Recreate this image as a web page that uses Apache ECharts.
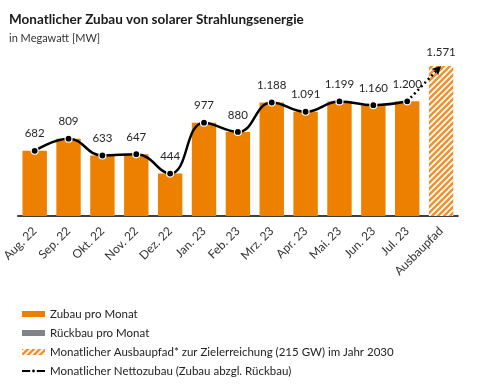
<!DOCTYPE html>
<html><head><meta charset="utf-8">
<script src="https://cdn.jsdelivr.net/npm/echarts@6/dist/echarts.min.js"></script>
<style>html,body{margin:0;padding:0;background:#fff;}#c{width:488px;height:388px;}</style>
</head><body><div id="c"></div>
<script>
const categories = ['Aug. 22','Sep. 22','Okt. 22','Nov. 22','Dez. 22','Jan. 23','Feb. 23','Mrz. 23','Apr. 23','Mai. 23','Jun. 23','Jul. 23','Ausbaupfad'];
const zubau = [682, 809, 633, 647, 444, 977, 880, 1188, 1091, 1199, 1160, 1200, null];
const rueckbau = [0, 0, 0, 0, 0, 0, 0, 0, 0, 0, 0, 0, null];
const ausbaupfad = [null, null, null, null, null, null, null, null, null, null, null, null, 1571];
const netto = [682, 809, 633, 647, 444, 977, 880, 1188, 1091, 1199, 1160, 1200, null];
const pfadLine = [null, null, null, null, null, null, null, null, null, null, null, 1200, 1571];

const ORANGE = '#EE8000';
const GRAY = '#808488';
const FONT = 'Lato';

function fmt(v){ const s = String(Math.round(v)); return s.replace(/\B(?=(\d{3})+(?!\d))/g, '.'); }
function toData(a){ return a.map(v => v === null ? '-' : v); }

// hatch pattern
const pc = document.createElement('canvas');
pc.width = 6; pc.height = 6;
const g = pc.getContext('2d');
g.fillStyle = '#ffffff'; g.fillRect(0,0,6,6);
g.strokeStyle = '#F0922E'; g.lineWidth = 2.6;
g.beginPath();
g.moveTo(-1,7); g.lineTo(7,-1);
g.moveTo(-4,4); g.lineTo(4,-4);
g.moveTo(2,10); g.lineTo(10,2);
g.stroke();
const hatch = {image: pc, repeat: 'repeat'};

const chart = echarts.init(document.getElementById('c'), null, {renderer:'canvas'});
chart.setOption({
  animation: false,
  textStyle: {fontFamily: FONT},
  title: [
    {text: 'Monatlicher Zubau von solarer Strahlungsenergie', left: 4, top: 8,
     textStyle: {fontFamily: FONT, fontSize: 13.5, fontWeight: 'bold', color: '#1a1a1a'}},
    {text: 'in Megawatt [MW]', left: 4, top: 28,
     textStyle: {fontFamily: FONT, fontSize: 11, fontWeight: 'normal', color: '#333'}}
  ],
  grid: {left: 5, right: 30, top: 44, bottom: 172, containLabel: false},
  xAxis: {
    type: 'category', data: categories,
    axisLine: {lineStyle: {color: '#000', width: 1.5}},
    axisTick: {show: false},
    axisLabel: {rotate: 45, fontSize: 12, color: '#333', margin: 13, interval: 0, fontFamily: FONT}
  },
  yAxis: {type: 'value', min: 0, max: 1800, show: false, splitLine: {show: false}},
  legend: {
    orient: 'vertical', left: 16, top: 303, itemGap: 7, itemWidth: 23, itemHeight: 6,
    textStyle: {fontSize: 11.5, color: '#222', fontFamily: FONT},
    data: [
      {name: 'Zubau pro Monat', icon: 'rect'},
      {name: 'Rückbau pro Monat', icon: 'rect'},
      {name: 'Monatlicher Ausbaupfad* zur Zielerreichung (215 GW) im Jahr 2030', icon: 'rect'},
      {name: 'Monatlicher Nettozubau (Zubau abzgl. Rückbau)'}
    ]
  },
  series: [
    {name: 'Zubau pro Monat', type: 'bar', stack: 's', data: toData(zubau), barWidth: '72%',
     itemStyle: {color: ORANGE}},
    {name: 'Rückbau pro Monat', type: 'bar', stack: 's', data: toData(rueckbau),
     itemStyle: {color: GRAY}},
    {name: 'Monatlicher Ausbaupfad* zur Zielerreichung (215 GW) im Jahr 2030', type: 'bar', stack: 's',
     data: toData(ausbaupfad), itemStyle: {color: hatch},
     label: {show: true, position: 'top', distance: 8, fontSize: 11.5, color: '#262626', formatter: p => fmt(p.value)}},
    {name: 'Monatlicher Nettozubau (Zubau abzgl. Rückbau)', type: 'line', data: toData(netto),
     smooth: 0.45, symbol: 'circle', symbolSize: 7, z: 5,
     lineStyle: {color: '#000', width: 2.5},
     itemStyle: {color: '#000', borderColor: '#fff', borderWidth: 1.2},
     label: {show: true, position: 'top', distance: 7, fontSize: 11.5, color: '#262626', formatter: p => fmt(p.value)}},
    {name: 'pfad', type: 'line', z: 4,
     data: pfadLine.map((v, i) => v === null ? '-' : (i === pfadLine.length - 1 ? {value: v, symbol: 'arrow', symbolSize: [7, 9], symbolRotate: -45} : {value: v, symbol: 'none'})),
     lineStyle: {color: '#000', width: 2.5, type: [2, 3]},
     itemStyle: {color: '#000'}
    }
  ]
});
</script></body></html>
